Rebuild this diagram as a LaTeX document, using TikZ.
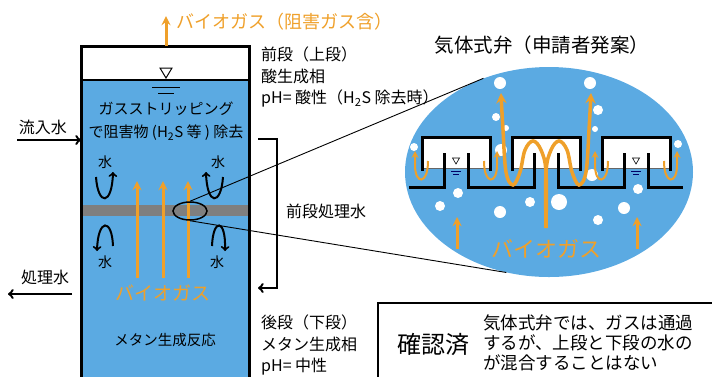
\documentclass[tikz,border=0pt]{standalone}
\usepackage{fontspec}
\setmainfont{Noto Sans CJK JP}
\usetikzlibrary{positioning,shapes.geometric}
\definecolor{tkWater}{HTML}{5BAAE2}
\definecolor{tkGas}{HTML}{EFA02A}
\definecolor{tkBand}{HTML}{7F7F7F}
\newcommand{\pxfont}[2]{\fontsize{#1}{#2}\selectfont}

\begin{document}
\begin{tikzpicture}[x=1pt,y=-1pt,>=stealth,
  wall/.style={line width=3pt},
  gas/.style={->,draw=tkGas,line width=3pt},
  flow/.style={-to,line width=2.4pt},
  lbl/.style={inner sep=0pt,align=left,font=\pxfont{16}{21.5}},
  mizu/.style={inner sep=0pt,font=\pxfont{14}{16}}]
\useasboundingbox (0,0) rectangle (712,376);

% reactor body
\fill[white] (81,46) rectangle (249,80);
\fill[tkWater] (81,80) rectangle (249,406);
\fill[tkBand] (81,205) rectangle (249,216);
\draw[line width=1.5pt] (81,80) -- (249,80);
\node[draw,wall,minimum width=168pt,minimum height=360pt,anchor=north west,inner sep=0pt,outer sep=0pt] (tank) at (81,46) {};
\draw[line width=1pt] (160,68) -- (172,68) -- (166,78) -- cycle;
\draw[line width=1pt] (152,87) -- (180,87) (158,93) -- (174,93);

% gas out at the top
\coordinate (g0) at (166,46);
\draw[gas] (g0) -- ++(0,-30);
\node[lbl,anchor=west,text=tkGas,font=\pxfont{18}{18}] (gastitle) at (176,22) {バイオガス（阻害ガス含）};

% inflow / outflow
\node[lbl] (inlab) at (43,127) {流入水};
\coordinate (in) at (17,140);
\draw[flow] (in) -- (in -| tank.west);
\node[lbl] (outlab) at (45,277) {処理水};
\coordinate (out) at (8,294);
\draw[flow] ([xshift=-9pt]tank.west |- out) -- (out);

% recycle of first stage water
\coordinate (b1) at (258,139);
\coordinate (b2) at (258,288);
\draw[flow] (b1) -- ++(19,0) |- (b2);
\node[lbl,anchor=west] (mid) at (286,211) {前段処理水};

% texts in the tank
\node[lbl,align=center,font=\pxfont{15}{23}] (strip) at (166,121) {ガスストリッピング\\で阻害物 (H\textsubscript{2}S 等 ) 除去};
\node[lbl,text=tkGas,font=\pxfont{19}{19}] (gasin) at (163,293) {バイオガス};
\node[lbl,font=\pxfont{14.5}{16}] (meth) at (165,340) {メタン生成反応};

% biogas rising through the plate
\foreach \x in {137,163,188}
  \draw[gas] (\x,278) -- (\x,181);

% water turning at the plate
\node[mizu] (w1) at (105,162) {水};
\node[mizu] (w2) at (218,162) {水};
\node[mizu] (w3) at (105,262) {水};
\node[mizu] (w4) at (217,262) {水};
\draw[flow,line width=2pt] (96,177) .. controls (98,206) and (112,206) .. (113,172);
\draw[flow,line width=2pt] (223,177) .. controls (221,206) and (207,206) .. (206,172);
\draw[flow,line width=2pt] (113,246) .. controls (112,218) and (98,218) .. (97,251);
\draw[flow,line width=2pt] (212,246) .. controls (213,218) and (226,218) .. (225,251);

% stage texts
\node[lbl,anchor=west] (upper) at (261,77) {前段（上段）\\酸生成相\\pH= 酸性（H\textsubscript{2}S 除去時）};
\node[lbl,anchor=west] (lower) at (261,345) {後段（下段）\\メタン生成相\\pH= 中性};

% gas valve detail
\node[ellipse,fill=tkWater,minimum width=288pt,minimum height=210pt,inner sep=0pt] (valve) at (549,172) {};
\node[lbl,font=\pxfont{19.5}{20}] (vtitle) at (542,45) {気体式弁（申請者発案）};

\foreach \x/\y/\r in {500/83/6, 590/83/6, 496/117/4, 506/128/3, 501/150/6, 598/110/5,
    595/129/3, 414/147/4, 678/144/4, 592/175/6, 458/193/5, 440/206/5, 500/212/6,
    530/202/5, 559/202/8, 598/220/5, 624/208/6, 638/189/5}
  \fill[white] (\x,\y) circle[radius=\r pt];

\foreach \c in {456,546,636} {
  \fill[white] (\c-34,137) rectangle (\c+34,168);
  \draw[line width=0.8pt,black!60] (\c-34,168) -- (\c+34,168);
  \draw[wall] (\c-34,171) |- (\c+34,137) -- (\c+34,171);
}
\draw[wall] (409,187) -- (444,187) -- (444,153)
  (468,153) -- (468,187) -- (534,187) -- (534,153)
  (558,153) -- (558,187) -- (624,187) -- (624,153)
  (648,153) -- (648,187) -- (683,187);
\foreach \c in {456,636} {
  \draw[line width=0.6pt] (\c-3.5,158) -- (\c+3.5,158) -- (\c,164) -- cycle;
  \draw[line width=0.6pt,blue!40!black] (\c-5,171) -- (\c+5,171) (\c-3,174) -- (\c+3,174);
  \draw[gas,line width=2pt] (\c-28,161) .. controls (\c-28,185) and (\c-41,185) .. (\c-41,165) -- (\c-41,151);
  \draw[gas,line width=2pt] (\c+28,161) .. controls (\c+28,185) and (\c+41,185) .. (\c+41,165) -- (\c+41,151);
}
\draw[gas,line width=3.5pt] plot[smooth,tension=0.6] coordinates {(546,228) (546,172) (541,150) (533,141) (525,150) (520,172) (513,185) (506,172) (503,130) (501,93)};
\draw[gas,line width=3.5pt] plot[smooth,tension=0.6] coordinates {(546,228) (546,172) (551,150) (559,141) (567,150) (572,172) (579,185) (586,172) (589,130) (591,93)};
\draw[gas] (457,249) -- (457,217);
\draw[gas] (637,249) -- (637,217);
\node[lbl,text=tkGas,font=\pxfont{22}{22}] (vgas) at (546,249) {バイオガス};

% magnifier
\node[ellipse,draw,line width=1.5pt,minimum width=34pt,minimum height=18pt,inner sep=0pt] (ring) at (190,211) {};
\draw[line width=0.9pt] (ring.north) -- (valve.125) (ring.south) -- (valve.247);

% result box
\draw[line width=1.5pt] (378,303) rectangle (722,390);
\node[lbl,font=\pxfont{24}{24}] (ok) at (433,344) {確認済};
\node[lbl,anchor=west,font=\pxfont{17.5}{20}] (okdesc) at (483,343) {気体式弁では、ガスは通過\\するが、上段と下段の水の\\が混合することはない};
\end{tikzpicture}
\end{document}
